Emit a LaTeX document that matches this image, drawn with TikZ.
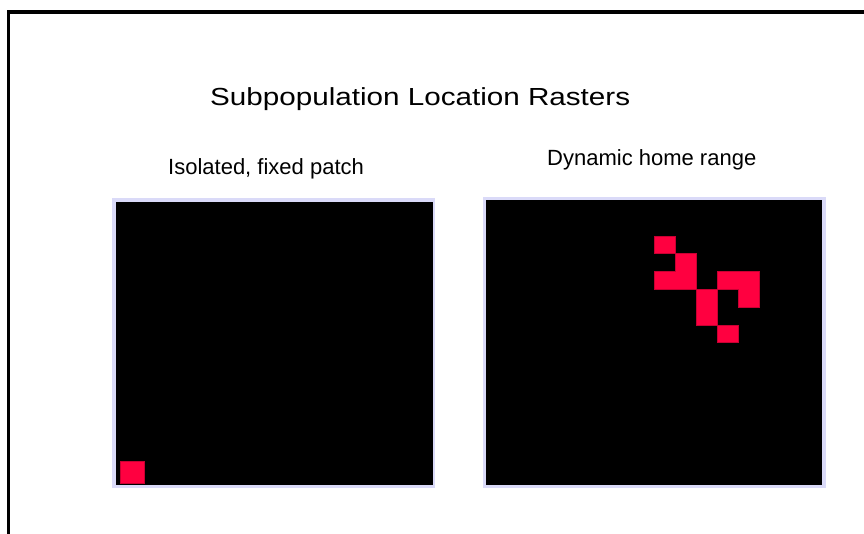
\documentclass[tikz,border=0pt]{standalone}
\usepackage{fontspec}
\setmainfont{Liberation Sans}
\definecolor{framelav}{RGB}{218,218,248}
\definecolor{cellred}{RGB}{255,0,64}
\definecolor{cellline}{RGB}{200,0,50}
\begin{document}
\begin{tikzpicture}[x=1pt,y=-1pt,
  heading/.style={anchor=base west,inner sep=0pt,font=\fontsize{22}{26}\selectfont},
  rasterframe/.style={fill=framelav},
  rasterfield/.style={fill=black},
  occupied/.style={fill=cellred,draw=cellline,line width=0.6pt}]
  \useasboundingbox[fill=white] (0,0) rectangle (864,534);

  % page frame (top and left edges)
  \draw[line width=3.5pt] (8.5,534) -- (8.5,12) -- (864,12);

  % title
  \node[anchor=base west,inner sep=0pt] (title) at (210,106)
    {\resizebox{420pt}{\height}{\fontsize{24.7}{30}\selectfont Subpopulation Location Rasters}};

  % panel headings
  \node[heading] (lefthead) at (168,175) {Isolated, fixed patch};
  \node[heading] (righthead) at (547,166) {Dynamic home range};

  % left raster
  \fill[rasterframe] (112,198.5) rectangle (434.5,487.5);
  \fill[rasterfield] (116,202.5) rectangle (432.5,485);
  \draw[occupied] (120,461) rectangle (144,483);

  % right raster: 16 x 16 cells
  \fill[rasterframe] (483,197.3) rectangle (825.7,487.7);
  \fill[rasterfield] (486,200.3) rectangle (822,485);
  \begin{scope}[shift={(486,200.3)},x=21pt,y=-17.8pt]
    \foreach \c/\r in {8/2,9/3,8/4,9/4,11/4,12/4,10/5,12/5,10/6,11/7}
      \fill[cellred] (\c,\r) rectangle ++(1,1);
    % outlines of the occupied clusters
    \draw[cellline,line width=0.6pt] (8,2) rectangle (9,3);
    \draw[cellline,line width=0.6pt] (9,3) -- (10,3) -- (10,5) -- (8,5) -- (8,4) -- (9,4) -- cycle;
    \draw[cellline,line width=0.6pt] (10,5) rectangle (11,7);
    \draw[cellline,line width=0.6pt] (11,4) -- (13,4) -- (13,6) -- (12,6) -- (12,5) -- (11,5) -- cycle;
    \draw[cellline,line width=0.6pt] (11,7) rectangle (12,8);
  \end{scope}
\end{tikzpicture}
\end{document}
